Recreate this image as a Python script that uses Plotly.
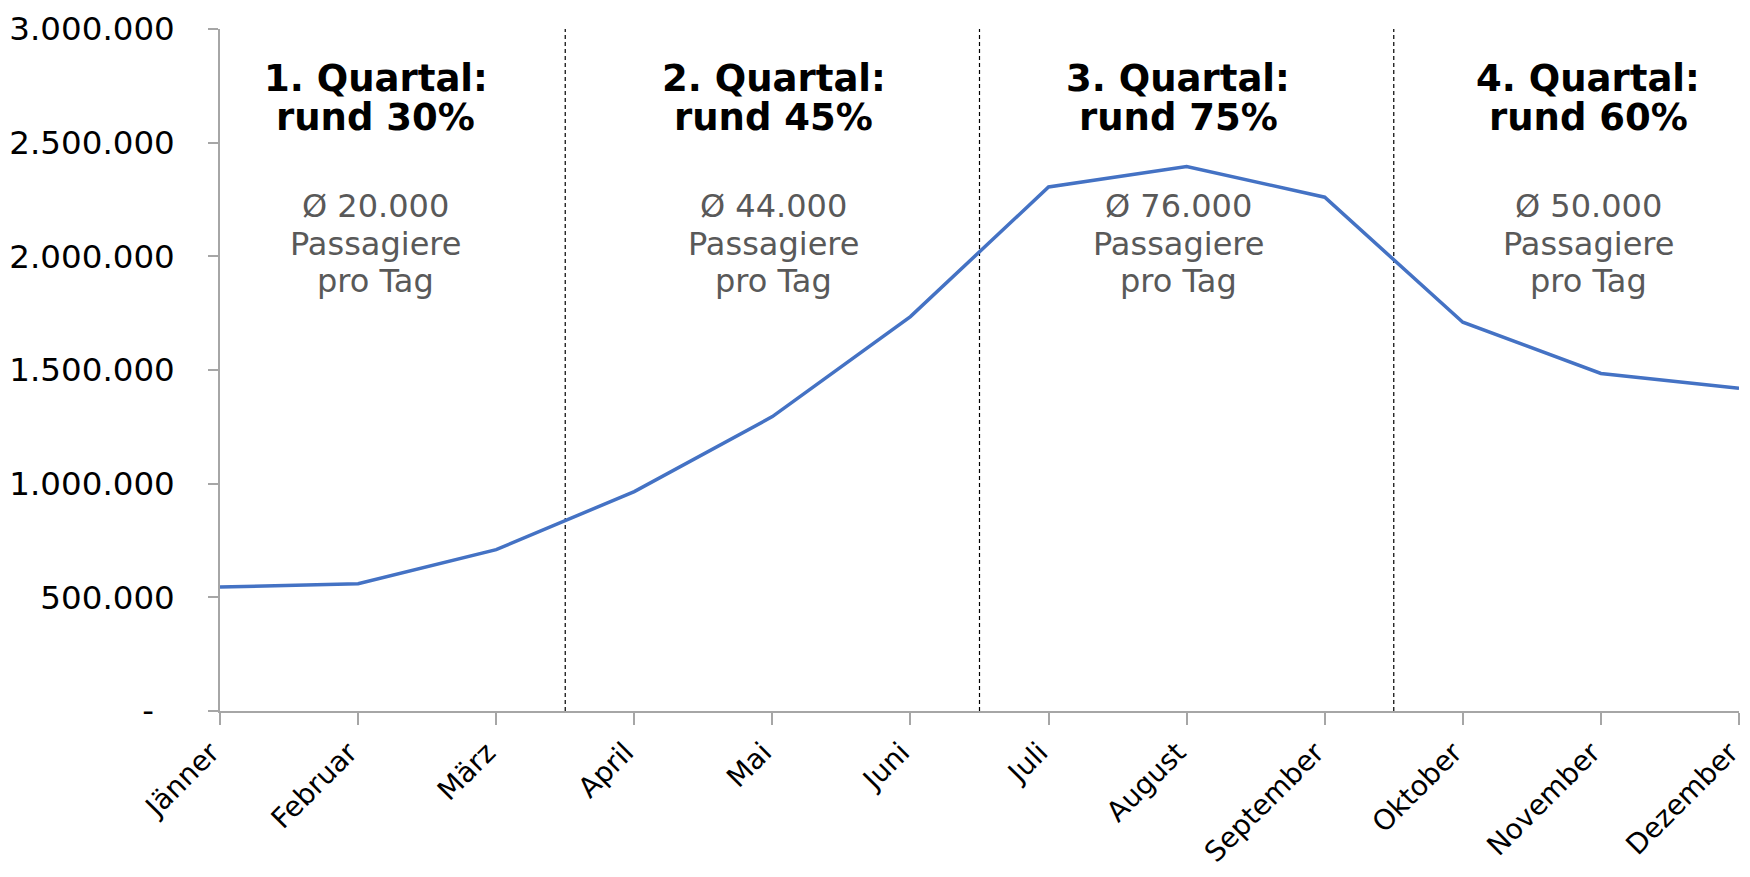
import plotly.graph_objects as go

months = ["Jänner", "Februar", "März", "April", "Mai", "Juni",
          "Juli", "August", "September", "Oktober", "November", "Dezember"]
passengers = [545000, 560000, 710000, 965000, 1295000, 1735000,
              2305000, 2395000, 2260000, 1710000, 1485000, 1420000]
quarter_titles = ["1. Quartal:", "2. Quartal:", "3. Quartal:", "4. Quartal:"]
quarter_shares = ["rund 30%", "rund 45%", "rund 75%", "rund 60%"]
quarter_avgs = ["Ø 20.000", "Ø 44.000", "Ø 76.000", "Ø 50.000"]
y_ticks = [0, 500000, 1000000, 1500000, 2000000, 2500000, 3000000]
y_ticktext = ["-\u2007", "500.000", "1.000.000", "1.500.000", "2.000.000", "2.500.000", "3.000.000"]

FONT = "DejaVu Sans"
AXIS_GREY = "#a6a6a6"

fig = go.Figure()
fig.add_trace(go.Scatter(
    x=months, y=passengers, mode="lines",
    line=dict(color="#4472C4", width=3.5),
    showlegend=False, hoverinfo="x+y",
))

# quarter separators
for bx in [2.5, 5.5, 8.5]:
    fig.add_shape(type="line", xref="x", yref="y", x0=bx, x1=bx, y0=0, y1=3010000,
                  line=dict(color="black", width=1.2, dash="4px,3px"), layer="below")

# quarter annotations (positions in data units / paper units)
centers = [1.128, 4.01, 6.94, 9.91]
for i in range(4):
    cx = centers[i]
    fig.add_annotation(x=cx, y=0.928, xref="x", yref="paper", text="<b>%s</b>" % quarter_titles[i],
                       showarrow=False, xanchor="center", yanchor="middle",
                       font=dict(family=FONT, size=37, color="black"))
    fig.add_annotation(x=cx, y=0.8702, xref="x", yref="paper", text="<b>%s</b>" % quarter_shares[i],
                       showarrow=False, xanchor="center", yanchor="middle",
                       font=dict(family=FONT, size=37, color="black"))
    for j, t in enumerate([quarter_avgs[i], "Passagiere", "pro Tag"]):
        fig.add_annotation(x=cx, y=[0.741, 0.685, 0.631][j], xref="x", yref="paper", text=t,
                           showarrow=False, xanchor="center", yanchor="middle",
                           font=dict(family=FONT, size=32, color="#595959"))

fig.update_layout(
    width=1734, height=861,
    margin=dict(l=212, r=3, t=21, b=158, autoexpand=False),
    paper_bgcolor="white", plot_bgcolor="white",
    font=dict(family=FONT, size=32, color="black"),
    showlegend=False,
)
fig.update_xaxes(
    type="category", range=[0, 11], automargin=False,
    showgrid=False, zeroline=False,
    showline=True, linecolor=AXIS_GREY, linewidth=1.5,
    ticks="outside", ticklen=12, tickcolor=AXIS_GREY, tickwidth=1.5,
    tickangle=-45, tickfont=dict(family=FONT, size=28, color="black"),
    ticklabelshift=-9,
)
fig.update_yaxes(
    range=[0, 3000000], automargin=False,
    tickvals=y_ticks, ticktext=y_ticktext,
    showgrid=False, zeroline=False,
    showline=True, linecolor=AXIS_GREY, linewidth=1.5,
    ticks="outside", ticklen=10, tickcolor=AXIS_GREY, tickwidth=1.5,
    tickfont=dict(family=FONT, size=32.5, color="black"),
    ticklabelstandoff=27,
)

fig.write_html("out.html")
